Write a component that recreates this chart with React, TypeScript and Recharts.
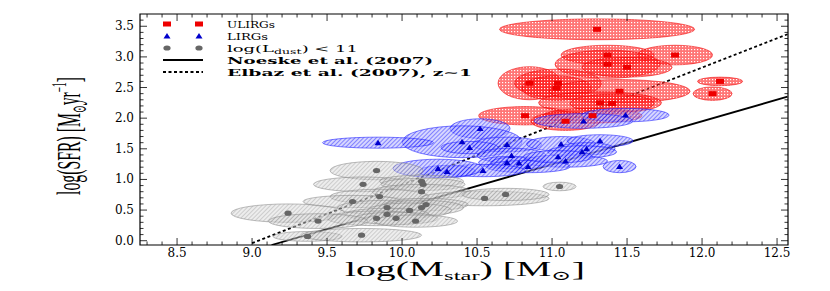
import { ComposedChart, Scatter, Line, XAxis, YAxis, ReferenceArea } from 'recharts'

// ULIRGs: log M*, log SFR and half-widths of the error ellipses
const ulirgMass = [11.3, 11.37, 11.82, 11.37, 11.5, 10.85, 11.04, 11.03, 11.45, 12.12, 12.07, 11.32, 11.4, 10.82, 11.27, 11.09]
const ulirgSfr = [3.45, 3.03, 3.03, 2.88, 2.83, 2.57, 2.57, 2.49, 2.44, 2.6, 2.4, 2.25, 2.24, 2.04, 2.04, 1.95]
const ulirgMassErr = [0.65, 0.31, 0.25, 0.35, 0.3, 0.21, 0.29, 0.23, 0.47, 0.15, 0.13, 0.41, 0.28, 0.31, 0.33, 0.23]
const ulirgSfrErr = [0.17, 0.16, 0.16, 0.23, 0.16, 0.27, 0.23, 0.2, 0.19, 0.07, 0.11, 0.18, 0.15, 0.15, 0.12, 0.15]

// LIRGs
const lirgMass = [11.49, 11.21, 10.52, 10.4, 10.7, 10.45, 11.06, 11.32, 11.23, 11.2, 10.73, 10.7, 10.78, 11.09, 10.84, 10.54, 10.3, 11.45, 11.04, 9.84, 10.24]
const lirgSfr = [2.05, 1.955, 1.83, 1.615, 1.57, 1.52, 1.58, 1.63, 1.5, 1.45, 1.39, 1.275, 1.27, 1.3, 1.21, 1.145, 1.13, 1.21, 1.37, 1.6, 1.18]
const lirgMassErr = [0.29, 0.33, 0.2, 0.4, 0.23, 0.19, 0.23, 0.22, 0.19, 0.23, 0.23, 0.19, 0.19, 0.28, 0.28, 0.28, 0.19, 0.11, 0.23, 0.37, 0.3]
const lirgSfrErr = [0.11, 0.12, 0.16, 0.26, 0.12, 0.1, 0.12, 0.1, 0.1, 0.1, 0.12, 0.1, 0.1, 0.1, 0.1, 0.1, 0.1, 0.1, 0.1, 0.09, 0.15]

// log(Ldust) < 11
const lowMass = [9.83, 9.74, 10.13, 10.14, 10.13, 9.85, 9.67, 10.55, 9.24, 9.9, 10.16, 10.13, 10.05, 9.9, 9.83, 9.96, 10.09, 9.44, 9.37, 9.73, 11.05, 10.69]
const lowSfr = [1.145, 0.92, 0.97, 0.92, 0.8, 0.72, 0.64, 0.69, 0.45, 0.54, 0.59, 0.54, 0.495, 0.43, 0.365, 0.365, 0.32, 0.32, 0.07, 0.09, 0.885, 0.755]
const lowMassErr = [0.31, 0.33, 0.28, 0.28, 0.33, 0.33, 0.33, 0.43, 0.38, 0.33, 0.28, 0.28, 0.28, 0.28, 0.33, 0.28, 0.28, 0.33, 0.23, 0.4, 0.11, 0.29]
const lowSfrErr = [0.15, 0.12, 0.1, 0.1, 0.12, 0.12, 0.1, 0.12, 0.15, 0.12, 0.1, 0.12, 0.12, 0.1, 0.12, 0.1, 0.1, 0.12, 0.08, 0.11, 0.07, 0.1]

// relations (end points)
const noeskeX = [9.13, 12.57]
const noeskeY = [-0.07, 2.35]
const elbazX = [9.0, 12.57]
const elbazY = [-0.04, 3.37]

const xMajor = [8.5, 9.0, 9.5, 10.0, 10.5, 11.0, 11.5, 12.0, 12.5]
const yMajor = [0.0, 0.5, 1.0, 1.5, 2.0, 2.5, 3.0, 3.5]

const X_MIN = 8.253
const X_MAX = 12.573
const Y_MIN = -0.07
const Y_MAX = 3.7

const W = 830
const H = 291
const PLOT_LEFT = 140
const PLOT_TOP = 14
const PLOT_W = 648
const PLOT_H = 231
const PX_X = PLOT_W / (X_MAX - X_MIN)
const PX_Y = PLOT_H / (Y_MAX - Y_MIN)

const minorTicks = (from: number, to: number) => {
  const out: number[] = []
  for (let i = Math.round(from * 10); i <= Math.round(to * 10); i++) out.push(i / 10)
  return out
}
const xTicks = minorTicks(8.3, 12.5)
const yTicks = minorTicks(0.0, 3.6)

const isMajor = (v: number, majors: number[]) => majors.some((m) => Math.abs(m - v) < 1e-6)

const toPoints = (xs: number[], ys: number[], ex: number[], ey: number[]) =>
  xs.map((x, i) => ({ x, y: ys[i], ex: ex[i], ey: ey[i] }))
const toLine = (xs: number[], ys: number[]) => xs.map((x, i) => ({ x, y: ys[i] }))

const ulirgs = toPoints(ulirgMass, ulirgSfr, ulirgMassErr, ulirgSfrErr)
const lirgs = toPoints(lirgMass, lirgSfr, lirgMassErr, lirgSfrErr)
const lowIr = toPoints(lowMass, lowSfr, lowMassErr, lowSfrErr)
const noeske = toLine(noeskeX, noeskeY)
const elbaz = toLine(elbazX, elbazY)

const SERIF = '"DejaVu Serif", "Liberation Serif", serif'
const TIMES = '"Liberation Serif", "DejaVu Serif", serif'

function ellipseShape(fill: string, stroke: string, opacity: number) {
  return (props: any) => {
    const { cx, cy, payload } = props
    return (
      <ellipse
        cx={cx}
        cy={cy}
        rx={payload.ex * PX_X}
        ry={payload.ey * PX_Y}
        fill={fill}
        fillOpacity={opacity}
        stroke={stroke}
        strokeOpacity={0.8}
        strokeWidth={0.7}
      />
    )
  }
}

const RedSquare = (props: any) => <rect x={props.cx - 4} y={props.cy - 2.5} width={8} height={5} fill="#ee0000" />
const BlueTriangle = (props: any) => (
  <polygon
    points={`${props.cx - 3.5},${props.cy + 2.5} ${props.cx + 3.5},${props.cy + 2.5} ${props.cx},${props.cy - 3}`}
    fill="#0000cc"
  />
)
const GrayDot = (props: any) => <ellipse cx={props.cx} cy={props.cy} rx={3.6} ry={2.6} fill="#666666" />

function XTick(props: any) {
  const { x, y, payload } = props
  const major = isMajor(payload.value, xMajor)
  const len = major ? 7 : 3.5
  return (
    <g>
      <line x1={x} x2={x} y1={y} y2={y - len} stroke="#000" strokeWidth={0.8} />
      <line x1={x} x2={x} y1={y - PLOT_H} y2={y - PLOT_H + len} stroke="#000" strokeWidth={0.8} />
      {major && (
        <text x={x} y={y + 12} textAnchor="middle" fontFamily={SERIF} fontSize={12} fill="#000">
          {payload.value.toFixed(1)}
        </text>
      )}
    </g>
  )
}

function YTick(props: any) {
  const { x, y, payload } = props
  const major = isMajor(payload.value, yMajor)
  const len = major ? 7 : 3.5
  return (
    <g>
      <line x1={x} x2={x + len} y1={y} y2={y} stroke="#000" strokeWidth={0.8} />
      <line x1={x + PLOT_W} x2={x + PLOT_W - len} y1={y} y2={y} stroke="#000" strokeWidth={0.8} />
      {major && (
        <text x={x - 6} y={y + 4} textAnchor="end" fontFamily={SERIF} fontSize={12} fill="#000">
          {payload.value.toFixed(1)}
        </text>
      )}
    </g>
  )
}

function Patterns() {
  return (
    <svg width={0} height={0} style={{ position: 'absolute' }}>
      <defs>
        <pattern id="redDots" width="3" height="3" patternUnits="userSpaceOnUse">
          <rect width="3" height="3" fill="#ff1a1a" />
          <rect x="1" y="1" width="1.2" height="1.2" fill="#ffffff" />
        </pattern>
        <pattern id="blueHatch" width="3" height="3" patternUnits="userSpaceOnUse" patternTransform="rotate(45)">
          <rect width="3" height="3" fill="#b4b4ff" />
          <line x1="0.5" y1="0" x2="0.5" y2="3" stroke="#1a1aff" strokeWidth="1" />
        </pattern>
        <pattern id="grayHatch" width="3" height="3" patternUnits="userSpaceOnUse" patternTransform="rotate(45)">
          <rect width="3" height="3" fill="#dcdcdc" />
          <line x1="0.5" y1="0" x2="0.5" y2="3" stroke="#9a9a9a" strokeWidth="1" />
        </pattern>
      </defs>
    </svg>
  )
}

function LegendOverlay() {
  const tx = 227
  return (
    <svg width={W} height={H} style={{ position: 'absolute', left: 0, top: 0, pointerEvents: 'none' }}>
      <RedSquare cx={167} cy={24} />
      <RedSquare cx={199} cy={24} />
      <text x={tx} y={27.5} fontFamily={SERIF} fontSize={10} textLength={48} lengthAdjust="spacingAndGlyphs">ULIRGs</text>

      <BlueTriangle cx={167} cy={36} />
      <BlueTriangle cx={199} cy={36} />
      <text x={tx} y={39.5} fontFamily={SERIF} fontSize={10} textLength={41} lengthAdjust="spacingAndGlyphs">LIRGs</text>

      <GrayDot cx={167} cy={48} />
      <GrayDot cx={199} cy={48} />
      <text x={tx} y={51.5} fontFamily={SERIF} fontSize={10} textLength={131} lengthAdjust="spacingAndGlyphs">
        log(L<tspan fontSize={7} dy={2}>dust</tspan><tspan dy={-2}>)  &lt;  11</tspan>
      </text>

      <line x1={163} x2={203} y1={60} y2={60} stroke="#000" strokeWidth={1.8} />
      <text x={tx} y={63.5} fontFamily={SERIF} fontSize={10} fontWeight="bold" textLength={206} lengthAdjust="spacingAndGlyphs">
        Noeske et al. (2007)
      </text>

      <line x1={163} x2={203} y1={72} y2={72} stroke="#000" strokeWidth={1.8} strokeDasharray="3 2.5" />
      <text x={tx} y={75.5} fontFamily={SERIF} fontSize={10} fontWeight="bold" textLength={245} lengthAdjust="spacingAndGlyphs">
        Elbaz et al. (2007), z∼1
      </text>

      <text x={465} y={276} textAnchor="middle" fontFamily={TIMES} fontSize={21} textLength={240} lengthAdjust="spacingAndGlyphs">
        log(M<tspan fontSize={13} dy={4}>star</tspan><tspan dy={-4}>)   [M</tspan><tspan fontSize={13} dy={4}>⊙</tspan><tspan dy={-4}>]</tspan>
      </text>

      <text
        transform="translate(80,136) rotate(-90)"
        x={0}
        y={0}
        textAnchor="middle"
        fontFamily={TIMES}
        fontSize={34}
        textLength={118}
        lengthAdjust="spacingAndGlyphs"
      >
        log(SFR) [M<tspan fontSize={20} dy={6}>⊙</tspan><tspan dy={-6}>yr</tspan><tspan fontSize={20} dy={-14}>−1</tspan><tspan dy={14}>]</tspan>
      </text>
    </svg>
  )
}

export default function App() {
  return (
    <div style={{ position: 'absolute', left: 0, top: 0, width: W, height: H, background: '#fff' }}>
      <Patterns />
      <ComposedChart width={W} height={H} margin={{ top: PLOT_TOP, right: W - PLOT_LEFT - PLOT_W, bottom: 0, left: 0 }}>
        <XAxis
          type="number"
          dataKey="x"
          domain={[X_MIN, X_MAX]}
          allowDataOverflow
          ticks={xTicks}
          interval={0}
          tick={<XTick />}
          tickSize={0}
          tickMargin={0}
          axisLine={false}
          tickLine={false}
          height={H - PLOT_TOP - PLOT_H}
        />
        <YAxis
          type="number"
          dataKey="y"
          domain={[Y_MIN, Y_MAX]}
          allowDataOverflow
          ticks={yTicks}
          interval={0}
          tick={<YTick />}
          tickSize={0}
          tickMargin={0}
          axisLine={false}
          tickLine={false}
          width={PLOT_LEFT}
        />
        <Scatter data={ulirgs} shape={ellipseShape('url(#redDots)', '#ee0000', 0.6)} isAnimationActive={false} />
        <Scatter data={lirgs} shape={ellipseShape('url(#blueHatch)', '#1a1aff', 0.55)} isAnimationActive={false} />
        <Scatter data={lowIr} shape={ellipseShape('url(#grayHatch)', '#888888', 0.5)} isAnimationActive={false} />
        <Scatter data={ulirgs} shape={<RedSquare />} isAnimationActive={false} />
        <Scatter data={lirgs} shape={<BlueTriangle />} isAnimationActive={false} />
        <Scatter data={lowIr} shape={<GrayDot />} isAnimationActive={false} />
        <Line data={noeske} dataKey="y" type="linear" dot={false} stroke="#000" strokeWidth={1.8} isAnimationActive={false} />
        <Line data={elbaz} dataKey="y" type="linear" dot={false} stroke="#000" strokeWidth={1.8} strokeDasharray="3 2.5" isAnimationActive={false} />
        <ReferenceArea x1={X_MIN} x2={X_MAX} y1={Y_MIN} y2={Y_MAX} fill="none" stroke="#000" strokeWidth={1.2} ifOverflow="visible" />
      </ComposedChart>
      <LegendOverlay />
    </div>
  )
}
